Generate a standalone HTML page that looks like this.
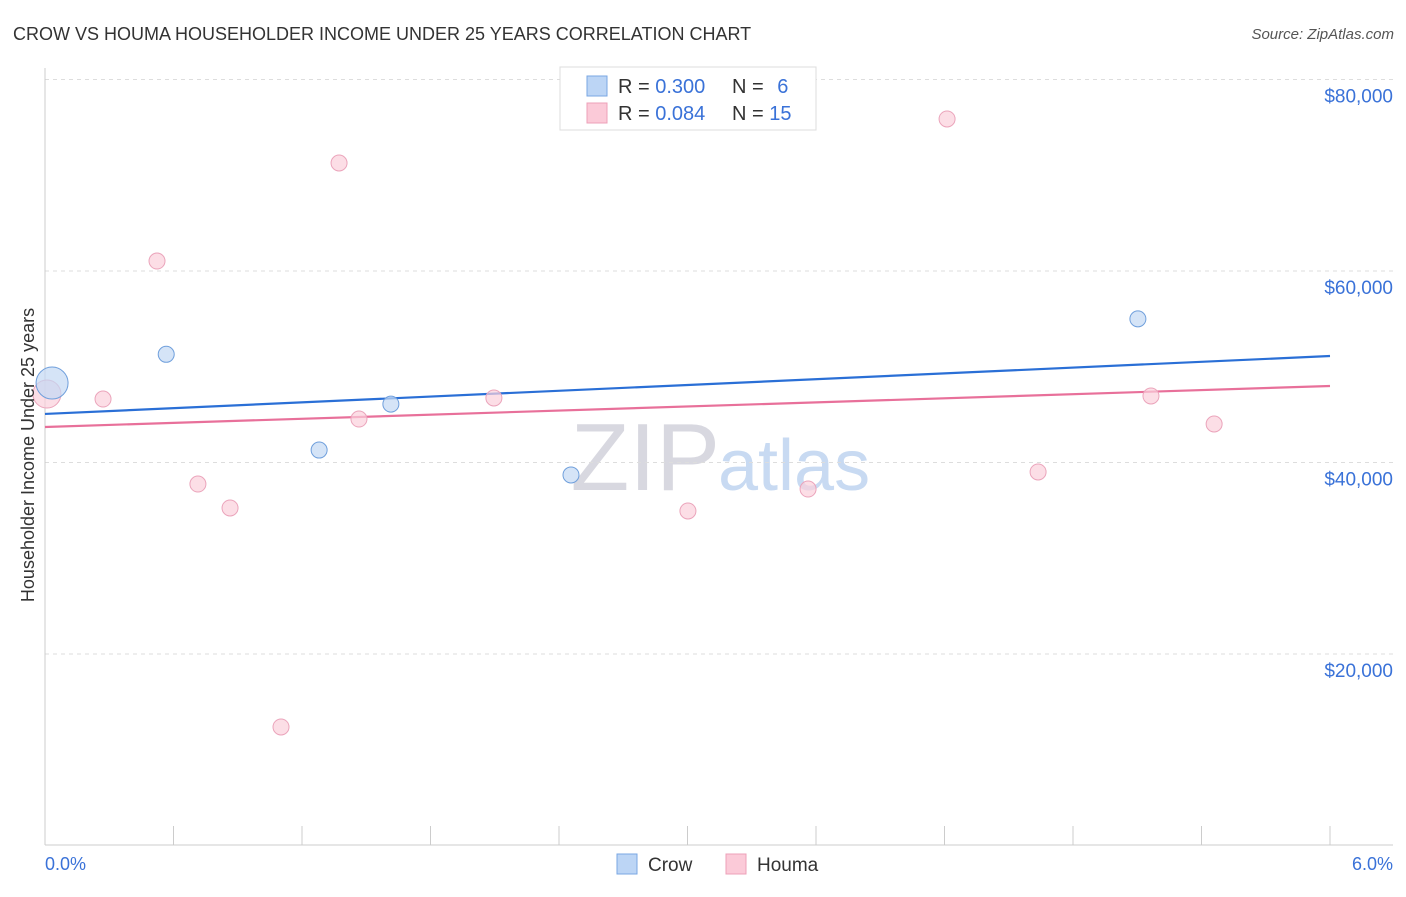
<!DOCTYPE html>
<html><head><meta charset="utf-8"><style>
body{margin:0;background:#fff;font-family:"Liberation Sans",sans-serif}
svg text{font-family:"Liberation Sans",sans-serif}
</style></head><body>
<svg width="1406" height="892">
<text x="13" y="40" font-size="18" fill="#333">CROW VS HOUMA HOUSEHOLDER INCOME UNDER 25 YEARS CORRELATION CHART</text>
<text x="1394" y="39" font-size="15" fill="#555" font-style="italic" text-anchor="end">Source: ZipAtlas.com</text>
<text x="720" y="490" font-size="96" fill="#d8d8e0" text-anchor="end" font-family="Liberation Serif">ZIP</text>
<text x="718" y="490" font-size="72" fill="#c8daf2">atlas</text>
<g id="grid"></g><g id="axes"></g><g id="lines"></g><g id="points"></g>
<text transform="translate(34,455) rotate(-90)" font-size="18" fill="#333" text-anchor="middle">Householder Income Under 25 years</text>
<text x="45" y="870" font-size="18" fill="#3a72d8">0.0%</text>
<text x="1393" y="870" font-size="18" fill="#3a72d8" text-anchor="end">6.0%</text>
<g>
<rect x="560" y="67" width="256" height="63" fill="#fff" stroke="#ddd"/>
<rect x="587" y="76" width="20" height="20" fill="#bcd5f5" stroke="#7aa7e3"/>
<rect x="587" y="103" width="20" height="20" fill="#fbcad8" stroke="#eea0b8"/>
<text x="618" y="93" font-size="20" fill="#333">R = <tspan fill="#3a72d8">0.300</tspan></text>
<text x="732" y="93" font-size="20" fill="#333">N = <tspan fill="#3a72d8" dx="8">6</tspan></text>
<text x="618" y="120" font-size="20" fill="#333">R = <tspan fill="#3a72d8">0.084</tspan></text>
<text x="732" y="120" font-size="20" fill="#333">N = <tspan fill="#3a72d8">15</tspan></text>
</g>
<g>
<rect x="617" y="854" width="20" height="20" fill="#bcd5f5" stroke="#7aa7e3"/>
<text x="648" y="871" font-size="19" fill="#333">Crow</text>
<rect x="726" y="854" width="20" height="20" fill="#fbcad8" stroke="#eea0b8"/>
<text x="757" y="871" font-size="19" fill="#333">Houma</text>
</g>
</svg>
<script>
const yTicks=[20000,40000,60000,80000];
const yTickLabels=["$20,000","$40,000","$60,000","$80,000"];
const crowX=[0.033,0.566,1.28,1.615,2.456,5.103];
const crowY=[48300,51300,41300,46100,38700,55000];
const crowR=[16,8,8,8,8,8];
const houmaX=[0.009,0.271,0.523,0.714,0.864,1.102,1.373,1.466,2.096,3.002,3.563,4.212,4.637,5.164,5.459];
const houmaY=[47150,46630,61040,37750,35250,12380,71280,44540,46740,34940,37230,75880,39010,46950,44020];
const houmaR=[14,8,8,8,8,8,8,8,8,8,8,8,8,8,8];
const crowTrend=[45070,51120];
const houmaTrend=[43710,47990];
const xs=v=>45+v/6*1285, ys=v=>845.5-v/20000*191.5;
const NS="http://www.w3.org/2000/svg";
function mk(t,a,p){const e=document.createElementNS(NS,t);for(const k in a)e.setAttribute(k,a[k]);document.getElementById(p).appendChild(e);return e;}
yTicks.forEach((t,i)=>{
 const l=mk('line',{x1:45,x2:1393,y1:ys(t),y2:ys(t),stroke:'#ddd','stroke-dasharray':'4,4'},'grid');
 
 
 const tx=mk('text',{x:1393,y:ys(t)+23,'font-size':19,fill:'#3a72d8','text-anchor':'end'},'grid');
 tx.textContent=yTickLabels[i];
 
 
});
const ax=mk('line',{x1:45,x2:45,y1:68,y2:845,stroke:'#ccc'},'axes');


const bx=mk('line',{x1:45,x2:1393,y1:845,y2:845,stroke:'#ccc'},'axes');


for(let i=0;i<=10;i++){const t=mk('line',{x1:xs(i*0.6),x2:xs(i*0.6),y1:826,y2:845,stroke:'#ccc'},'axes');
 
 }
function pts(X,Y,R,f,s,n){X.forEach((x,i)=>{const c=mk('circle',{cx:xs(x),cy:ys(Y[i]),r:R[i],fill:f,stroke:s,'fill-opacity':0.7},'points');
 
 });}
pts(houmaX,houmaY,houmaR,'#fbd0dc','#eba4bb','houma-point');
pts(crowX,crowY,crowR,'#c3d8f4','#6f9fdc','crow-point');
const l1=mk('line',{x1:45,x2:1330,y1:ys(crowTrend[0]),y2:ys(crowTrend[1]),stroke:'#2a6fd6','stroke-width':2.2},'lines');


const l2=mk('line',{x1:45,x2:1330,y1:ys(houmaTrend[0]),y2:ys(houmaTrend[1]),stroke:'#e8709a','stroke-width':2.2},'lines');


</script>
</body></html>
